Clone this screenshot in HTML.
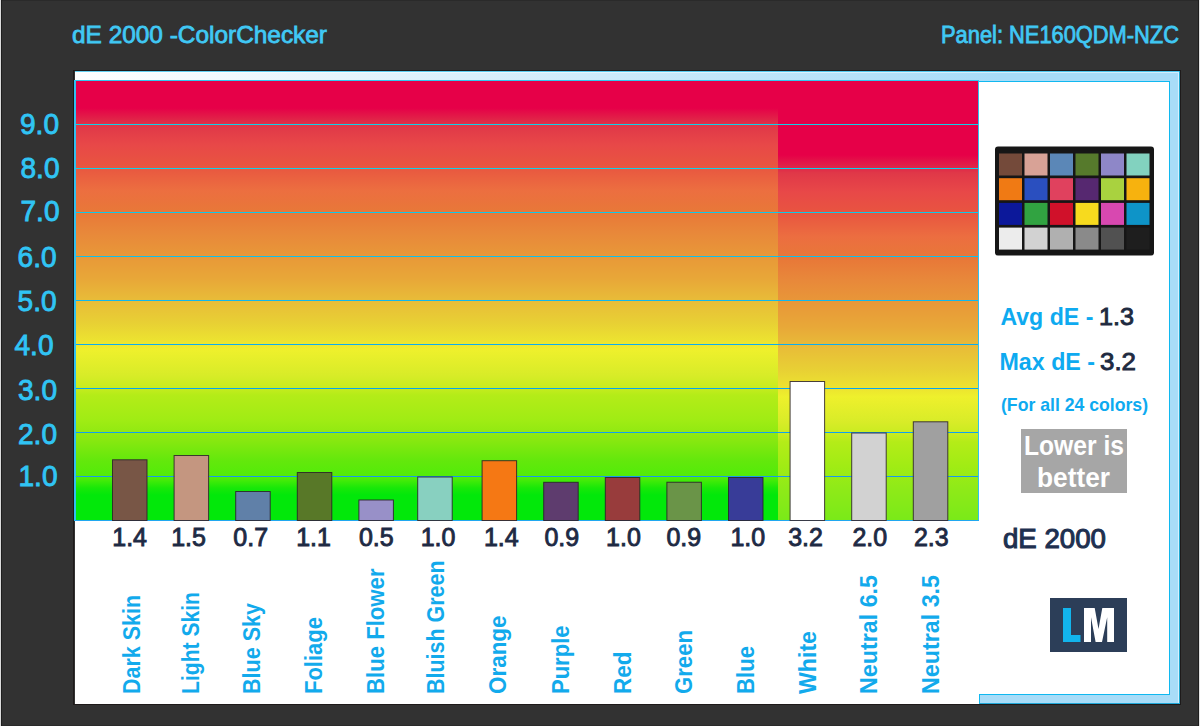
<!DOCTYPE html>
<html><head><meta charset="utf-8"><title>dE 2000 ColorChecker</title>
<style>
html,body{margin:0;padding:0;background:#323232;}
body{width:1200px;height:726px;overflow:hidden;position:relative;}
svg{position:absolute;left:0;top:0;display:block;}
text{font-family:"Liberation Sans", sans-serif;}
</style></head><body>
<svg width="1200" height="726" viewBox="0 0 1200 726">
<defs>
<linearGradient id="band" x1="75" y1="0" x2="1000" y2="0" gradientUnits="userSpaceOnUse">
<stop offset="0" stop-color="#ffffff"/><stop offset="1" stop-color="#a8dcf8"/>
</linearGradient>
<linearGradient id="gL" x1="0" y1="81" x2="0" y2="520" gradientUnits="userSpaceOnUse">
<stop offset="0.0000" stop-color="#e60048"/>
<stop offset="0.0615" stop-color="#e60048"/>
<stop offset="0.0911" stop-color="#e02848"/>
<stop offset="0.1025" stop-color="#e03848"/>
<stop offset="0.1458" stop-color="#e84848"/>
<stop offset="0.1913" stop-color="#e85440"/>
<stop offset="0.2483" stop-color="#ec6e40"/>
<stop offset="0.2984" stop-color="#e87838"/>
<stop offset="0.3462" stop-color="#e8883a"/>
<stop offset="0.3986" stop-color="#e89838"/>
<stop offset="0.4533" stop-color="#e8a838"/>
<stop offset="0.4989" stop-color="#e8bc38"/>
<stop offset="0.5513" stop-color="#e8d034"/>
<stop offset="0.5900" stop-color="#ece230"/>
<stop offset="0.6128" stop-color="#eef02c"/>
<stop offset="0.6697" stop-color="#d8ec28"/>
<stop offset="0.6970" stop-color="#c8ec20"/>
<stop offset="0.7153" stop-color="#b4ec18"/>
<stop offset="0.7722" stop-color="#a0ec14"/>
<stop offset="0.8178" stop-color="#88e810"/>
<stop offset="0.8633" stop-color="#64e80c"/>
<stop offset="0.9043" stop-color="#50ec08"/>
<stop offset="0.9271" stop-color="#18e808"/>
<stop offset="0.9431" stop-color="#02e80a"/>
<stop offset="1.0000" stop-color="#02e80a"/>
</linearGradient>
<linearGradient id="gR" x1="0" y1="81" x2="0" y2="520" gradientUnits="userSpaceOnUse">
<stop offset="0.0000" stop-color="#e60048"/>
<stop offset="0.1686" stop-color="#e60048"/>
<stop offset="0.1982" stop-color="#e02848"/>
<stop offset="0.2096" stop-color="#e03848"/>
<stop offset="0.2528" stop-color="#e84848"/>
<stop offset="0.2984" stop-color="#e85440"/>
<stop offset="0.3554" stop-color="#ec6e40"/>
<stop offset="0.4055" stop-color="#e87838"/>
<stop offset="0.4533" stop-color="#e8883a"/>
<stop offset="0.5057" stop-color="#e89838"/>
<stop offset="0.5604" stop-color="#e8a838"/>
<stop offset="0.6059" stop-color="#e8bc38"/>
<stop offset="0.6583" stop-color="#e8d034"/>
<stop offset="0.6970" stop-color="#ece230"/>
<stop offset="0.7198" stop-color="#eef02c"/>
<stop offset="0.7768" stop-color="#d8ec28"/>
<stop offset="0.8041" stop-color="#c8ec20"/>
<stop offset="0.8223" stop-color="#b4ec18"/>
<stop offset="0.8793" stop-color="#a0ec14"/>
<stop offset="0.9248" stop-color="#90ea18"/>
<stop offset="1" stop-color="#7aea18"/>
</linearGradient>
</defs>

<text x="72" y="43.1" font-size="24" fill="#40c8f4" stroke="#40c8f4" stroke-width="0.8" textLength="255" lengthAdjust="spacingAndGlyphs">dE 2000 -ColorChecker</text>
<text x="941" y="43.2" font-size="23" fill="#40c8f4" stroke="#40c8f4" stroke-width="0.8" textLength="238" lengthAdjust="spacingAndGlyphs">Panel: NE160QDM-NZC</text>
<rect x="0" y="0" width="1200" height="1" fill="#2a2a2a"/>
<rect x="0" y="725" width="1200" height="1" fill="#2a2a2a"/>
<rect x="0" y="0" width="1" height="726" fill="#dcdcdc"/>
<rect x="1" y="0" width="1" height="726" fill="#1e1e1e"/>
<rect x="1199" y="0" width="1" height="726" fill="#e4e4e4"/>
<rect x="1198" y="0" width="1" height="726" fill="#1e1e1e"/>
<rect x="73.5" y="70.5" width="1107" height="634" fill="none" stroke="#1e1a1a" stroke-width="1"/>
<rect x="75" y="71" width="1105" height="633" fill="#ffffff"/>
<rect x="75" y="71" width="1105" height="10" fill="url(#band)"/>
<rect x="1169" y="71" width="11" height="633" fill="#a8dcf8"/>
<rect x="979" y="694" width="201" height="10" fill="#a8dcf8"/>
<rect x="75" y="71" width="1105" height="1" fill="#30c0ec" opacity="0.75"/>
<rect x="75" y="72" width="1105" height="1" fill="#ffffff" opacity="0.5"/>
<rect x="1179" y="71" width="1" height="633" fill="#20a8d0"/>
<rect x="1178" y="72" width="1" height="631" fill="#d4f0ff"/>
<rect x="979" y="703" width="201" height="1" fill="#20a8d8"/>
<rect x="979" y="81" width="191" height="1" fill="#10b8f0"/>
<rect x="1169" y="81" width="1" height="614" fill="#10b8f0"/>
<rect x="979" y="694" width="191" height="1" fill="#10b8f0"/>
<rect x="979" y="694" width="1" height="10" fill="#10b8f0"/>
<rect x="76" y="81" width="702" height="439" fill="url(#gL)"/>
<rect x="778" y="81" width="200" height="439" fill="url(#gR)"/>
<rect x="75" y="80" width="904" height="1" fill="#30c8f0"/>
<rect x="74" y="80" width="2" height="441" fill="#30c0f0"/>
<rect x="978" y="80" width="1" height="441" fill="#30c0f0"/>
<rect x="75" y="520" width="904" height="1" fill="#20a8f0"/>
<rect x="76" y="476" width="902" height="1" fill="#1898f0"/>
<rect x="76" y="432" width="902" height="1" fill="#10a0f0"/>
<rect x="76" y="388" width="902" height="1" fill="#08a4f0"/>
<rect x="76" y="344" width="902" height="1" fill="#0cacf0"/>
<rect x="76" y="300" width="902" height="1" fill="#10b8ec"/>
<rect x="76" y="256" width="902" height="1" fill="#10c0ea"/>
<rect x="76" y="212" width="902" height="1" fill="#10c8e8"/>
<rect x="76" y="168" width="902" height="1" fill="#10d0e8"/>
<rect x="76" y="124" width="902" height="1" fill="#10d0e8"/>
<text x="57.5" y="486.2" font-size="29" fill="#30c4f4" stroke="#30c4f4" stroke-width="0.9" text-anchor="end" textLength="39" lengthAdjust="spacingAndGlyphs">1.0</text>
<text x="57.0" y="444.1" font-size="29" fill="#30c4f4" stroke="#30c4f4" stroke-width="0.9" text-anchor="end" textLength="39" lengthAdjust="spacingAndGlyphs">2.0</text>
<text x="57.0" y="399.6" font-size="29" fill="#30c4f4" stroke="#30c4f4" stroke-width="0.9" text-anchor="end" textLength="39" lengthAdjust="spacingAndGlyphs">3.0</text>
<text x="53.5" y="355.1" font-size="29" fill="#30c4f4" stroke="#30c4f4" stroke-width="0.9" text-anchor="end" textLength="39" lengthAdjust="spacingAndGlyphs">4.0</text>
<text x="56.6" y="311.0" font-size="29" fill="#30c4f4" stroke="#30c4f4" stroke-width="0.9" text-anchor="end" textLength="39" lengthAdjust="spacingAndGlyphs">5.0</text>
<text x="56.6" y="266.6" font-size="29" fill="#30c4f4" stroke="#30c4f4" stroke-width="0.9" text-anchor="end" textLength="39" lengthAdjust="spacingAndGlyphs">6.0</text>
<text x="59.5" y="221.3" font-size="29" fill="#30c4f4" stroke="#30c4f4" stroke-width="0.9" text-anchor="end" textLength="39" lengthAdjust="spacingAndGlyphs">7.0</text>
<text x="59.5" y="177.7" font-size="29" fill="#30c4f4" stroke="#30c4f4" stroke-width="0.9" text-anchor="end" textLength="39" lengthAdjust="spacingAndGlyphs">8.0</text>
<text x="59.0" y="133.7" font-size="29" fill="#30c4f4" stroke="#30c4f4" stroke-width="0.9" text-anchor="end" textLength="39" lengthAdjust="spacingAndGlyphs">9.0</text>
<rect x="112.50" y="459.80" width="34.50" height="60.70" fill="#785646" stroke="#2a2028" stroke-opacity="0.85" stroke-width="1"/>
<rect x="174.10" y="455.50" width="34.50" height="65.00" fill="#c49680" stroke="#2a2028" stroke-opacity="0.85" stroke-width="1"/>
<rect x="235.70" y="491.50" width="34.50" height="29.00" fill="#6080a8" stroke="#2a2028" stroke-opacity="0.85" stroke-width="1"/>
<rect x="297.30" y="472.50" width="34.50" height="48.00" fill="#587828" stroke="#2a2028" stroke-opacity="0.85" stroke-width="1"/>
<rect x="358.90" y="500.00" width="34.50" height="20.50" fill="#9890c8" stroke="#2a2028" stroke-opacity="0.85" stroke-width="1"/>
<rect x="417.70" y="477.00" width="34.50" height="43.50" fill="#88d0c0" stroke="#2a2028" stroke-opacity="0.85" stroke-width="1"/>
<rect x="482.10" y="460.70" width="34.50" height="59.80" fill="#f57814" stroke="#2a2028" stroke-opacity="0.85" stroke-width="1"/>
<rect x="543.70" y="482.30" width="34.50" height="38.20" fill="#5e3c6e" stroke="#2a2028" stroke-opacity="0.85" stroke-width="1"/>
<rect x="605.30" y="477.50" width="34.50" height="43.00" fill="#983c3c" stroke="#2a2028" stroke-opacity="0.85" stroke-width="1"/>
<rect x="666.90" y="482.25" width="34.50" height="38.25" fill="#6a9448" stroke="#2a2028" stroke-opacity="0.85" stroke-width="1"/>
<rect x="728.50" y="477.50" width="34.50" height="43.00" fill="#383c98" stroke="#2a2028" stroke-opacity="0.85" stroke-width="1"/>
<rect x="790.10" y="381.50" width="34.50" height="139.00" fill="#ffffff" stroke="#2a2028" stroke-opacity="0.85" stroke-width="1"/>
<rect x="851.70" y="433.00" width="34.50" height="87.50" fill="#d2d2d2" stroke="#2a2028" stroke-opacity="0.85" stroke-width="1"/>
<rect x="913.30" y="421.80" width="34.50" height="98.70" fill="#a0a0a0" stroke="#2a2028" stroke-opacity="0.85" stroke-width="1"/>
<text x="129.65" y="546" font-size="25" fill="#1e2a44" stroke="#1e2a44" stroke-width="0.9" text-anchor="middle">1.4</text>
<text x="188.55" y="546" font-size="25" fill="#1e2a44" stroke="#1e2a44" stroke-width="0.9" text-anchor="middle">1.5</text>
<text x="250.75" y="546" font-size="25" fill="#1e2a44" stroke="#1e2a44" stroke-width="0.9" text-anchor="middle">0.7</text>
<text x="313.55" y="546" font-size="25" fill="#1e2a44" stroke="#1e2a44" stroke-width="0.9" text-anchor="middle">1.1</text>
<text x="376.30" y="546" font-size="25" fill="#1e2a44" stroke="#1e2a44" stroke-width="0.9" text-anchor="middle">0.5</text>
<text x="438.05" y="546" font-size="25" fill="#1e2a44" stroke="#1e2a44" stroke-width="0.9" text-anchor="middle">1.0</text>
<text x="501.30" y="546" font-size="25" fill="#1e2a44" stroke="#1e2a44" stroke-width="0.9" text-anchor="middle">1.4</text>
<text x="561.80" y="546" font-size="25" fill="#1e2a44" stroke="#1e2a44" stroke-width="0.9" text-anchor="middle">0.9</text>
<text x="623.50" y="546" font-size="25" fill="#1e2a44" stroke="#1e2a44" stroke-width="0.9" text-anchor="middle">1.0</text>
<text x="683.80" y="546" font-size="25" fill="#1e2a44" stroke="#1e2a44" stroke-width="0.9" text-anchor="middle">0.9</text>
<text x="747.85" y="546" font-size="25" fill="#1e2a44" stroke="#1e2a44" stroke-width="0.9" text-anchor="middle">1.0</text>
<text x="805.60" y="546" font-size="25" fill="#1e2a44" stroke="#1e2a44" stroke-width="0.9" text-anchor="middle">3.2</text>
<text x="869.80" y="546" font-size="25" fill="#1e2a44" stroke="#1e2a44" stroke-width="0.9" text-anchor="middle">2.0</text>
<text x="931.30" y="546" font-size="25" fill="#1e2a44" stroke="#1e2a44" stroke-width="0.9" text-anchor="middle">2.3</text>
<text transform="translate(139.8,694) rotate(-90)" x="0" y="0" font-size="23.5" font-weight="bold" fill="#12aaec" textLength="99" lengthAdjust="spacingAndGlyphs">Dark Skin</text>
<text transform="translate(199.0,694) rotate(-90)" x="0" y="0" font-size="23.5" font-weight="bold" fill="#12aaec" textLength="102" lengthAdjust="spacingAndGlyphs">Light Skin</text>
<text transform="translate(260.1,694) rotate(-90)" x="0" y="0" font-size="23.5" font-weight="bold" fill="#12aaec" textLength="91" lengthAdjust="spacingAndGlyphs">Blue Sky</text>
<text transform="translate(321.7,694) rotate(-90)" x="0" y="0" font-size="23.5" font-weight="bold" fill="#12aaec" textLength="77" lengthAdjust="spacingAndGlyphs">Foliage</text>
<text transform="translate(384.0,694) rotate(-90)" x="0" y="0" font-size="23.5" font-weight="bold" fill="#12aaec" textLength="125.5" lengthAdjust="spacingAndGlyphs">Blue Flower</text>
<text transform="translate(444.0,694) rotate(-90)" x="0" y="0" font-size="23.5" font-weight="bold" fill="#12aaec" textLength="133.5" lengthAdjust="spacingAndGlyphs">Bluish Green</text>
<text transform="translate(506.0,694) rotate(-90)" x="0" y="0" font-size="23.5" font-weight="bold" fill="#12aaec" textLength="78.5" lengthAdjust="spacingAndGlyphs">Orange</text>
<text transform="translate(568.8,694) rotate(-90)" x="0" y="0" font-size="23.5" font-weight="bold" fill="#12aaec" textLength="68.5" lengthAdjust="spacingAndGlyphs">Purple</text>
<text transform="translate(630.6,694) rotate(-90)" x="0" y="0" font-size="23.5" font-weight="bold" fill="#12aaec" textLength="42.5" lengthAdjust="spacingAndGlyphs">Red</text>
<text transform="translate(692.0,694) rotate(-90)" x="0" y="0" font-size="23.5" font-weight="bold" fill="#12aaec" textLength="64" lengthAdjust="spacingAndGlyphs">Green</text>
<text transform="translate(754.0,694) rotate(-90)" x="0" y="0" font-size="23.5" font-weight="bold" fill="#12aaec" textLength="48" lengthAdjust="spacingAndGlyphs">Blue</text>
<text transform="translate(815.7,694) rotate(-90)" x="0" y="0" font-size="23.5" font-weight="bold" fill="#12aaec" textLength="63" lengthAdjust="spacingAndGlyphs">White</text>
<text transform="translate(877.3,694) rotate(-90)" x="0" y="0" font-size="23.5" font-weight="bold" fill="#12aaec" textLength="119" lengthAdjust="spacingAndGlyphs">Neutral 6.5</text>
<text transform="translate(939.1,694) rotate(-90)" x="0" y="0" font-size="23.5" font-weight="bold" fill="#12aaec" textLength="119" lengthAdjust="spacingAndGlyphs">Neutral 3.5</text>
<rect x="995" y="146.5" width="159" height="109" rx="3" fill="#161616"/>
<rect x="999.0" y="153.5" width="23" height="22" fill="#744a3a"/>
<rect x="1024.5" y="153.5" width="23" height="22" fill="#d8a296"/>
<rect x="1050.0" y="153.5" width="23" height="22" fill="#5b87b7"/>
<rect x="1075.5" y="153.5" width="23" height="22" fill="#567a2c"/>
<rect x="1101.0" y="153.5" width="23" height="22" fill="#8e87c8"/>
<rect x="1126.5" y="153.5" width="23" height="22" fill="#82d2bf"/>
<rect x="999.0" y="178.2" width="23" height="22" fill="#f07a14"/>
<rect x="1024.5" y="178.2" width="23" height="22" fill="#2a4fbf"/>
<rect x="1050.0" y="178.2" width="23" height="22" fill="#e0415e"/>
<rect x="1075.5" y="178.2" width="23" height="22" fill="#562870"/>
<rect x="1101.0" y="178.2" width="23" height="22" fill="#a9d23f"/>
<rect x="1126.5" y="178.2" width="23" height="22" fill="#f7b20e"/>
<rect x="999.0" y="202.9" width="23" height="22" fill="#0c189a"/>
<rect x="1024.5" y="202.9" width="23" height="22" fill="#31a341"/>
<rect x="1050.0" y="202.9" width="23" height="22" fill="#d0112a"/>
<rect x="1075.5" y="202.9" width="23" height="22" fill="#f7da1e"/>
<rect x="1101.0" y="202.9" width="23" height="22" fill="#d848b0"/>
<rect x="1126.5" y="202.9" width="23" height="22" fill="#0e94c8"/>
<rect x="999.0" y="227.6" width="23" height="22" fill="#ececec"/>
<rect x="1024.5" y="227.6" width="23" height="22" fill="#d2d2d2"/>
<rect x="1050.0" y="227.6" width="23" height="22" fill="#b0b0b0"/>
<rect x="1075.5" y="227.6" width="23" height="22" fill="#8a8a8a"/>
<rect x="1101.0" y="227.6" width="23" height="22" fill="#515151"/>
<rect x="1126.5" y="227.6" width="23" height="22" fill="#1e1e1e"/>
<text x="1000.4" y="324.5" font-size="24" font-weight="bold" fill="#0eaaf0" textLength="93" lengthAdjust="spacingAndGlyphs">Avg dE -</text>
<text x="1099" y="324.5" font-size="24.5" fill="#1e2a40" stroke="#1e2a40" stroke-width="0.9" textLength="35" lengthAdjust="spacingAndGlyphs">1.3</text>
<text x="999.5" y="370" font-size="24" font-weight="bold" fill="#0eaaf0" textLength="95.5" lengthAdjust="spacingAndGlyphs">Max dE -</text>
<text x="1100" y="370" font-size="24.5" fill="#1e2a40" stroke="#1e2a40" stroke-width="0.9" textLength="36" lengthAdjust="spacingAndGlyphs">3.2</text>
<text x="1001" y="410.6" font-size="19" font-weight="bold" fill="#0eaaf0" textLength="147" lengthAdjust="spacingAndGlyphs">(For all 24 colors)</text>
<rect x="1021" y="429" width="106" height="64" fill="#a6a6a6"/>
<text x="1024" y="454.8" font-size="27" font-weight="bold" fill="#ffffff" textLength="100" lengthAdjust="spacingAndGlyphs">Lower is</text>
<text x="1037" y="486.8" font-size="27" font-weight="bold" fill="#ffffff" textLength="73" lengthAdjust="spacingAndGlyphs">better</text>
<text x="1003" y="547.5" font-size="28.3" fill="#1e3050" stroke="#1e3050" stroke-width="1.1" textLength="103" lengthAdjust="spacingAndGlyphs">dE 2000</text>
<rect x="1050" y="598" width="77" height="54" fill="#2c3e58"/>
<path d="M1063,608 H1071 V635 H1080.5 V642 H1063 Z" fill="#12b4ec"/>
<path d="M1084,608 H1094.7 L1098.5,629 L1102.3,608 H1114 V642 H1107.2 V617.3 L1102,642 H1095.6 L1091,617.3 V642 H1084 Z" fill="#ffffff"/>
</svg></body></html>
